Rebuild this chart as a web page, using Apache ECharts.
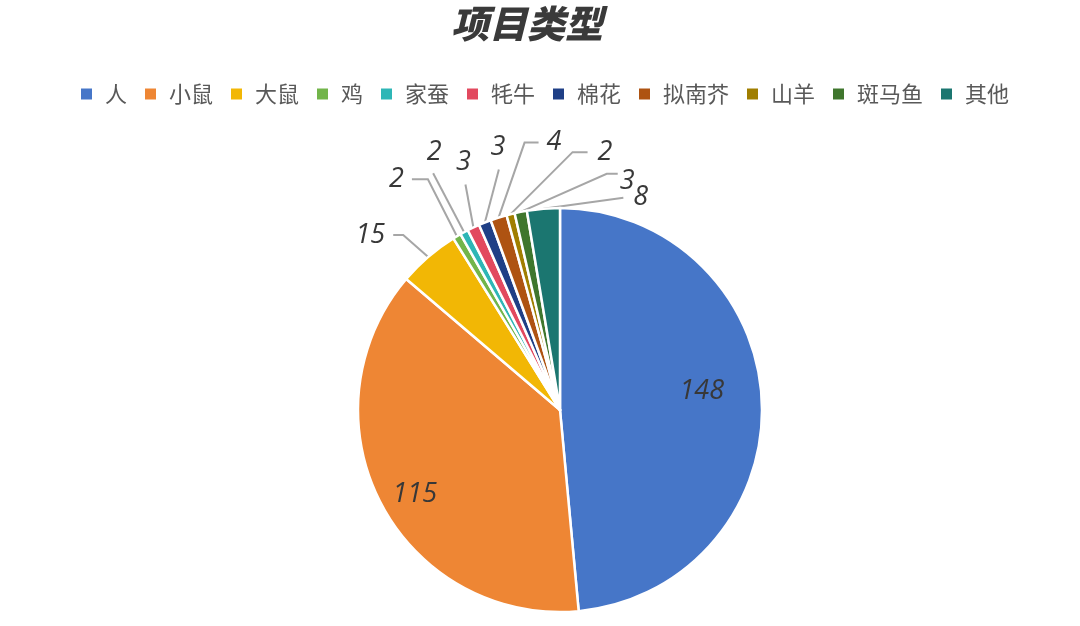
<!DOCTYPE html>
<html>
<head>
<meta charset="utf-8">
<script src="https://cdn.jsdelivr.net/npm/echarts@6/dist/echarts.min.js"></script>
<style>
html,body{margin:0;padding:0;background:#fff;}
#main{width:1080px;height:626px;}
</style>
</head>
<body>
<div id="main"></div>
<script>
// ---- data ----
const titleText = '项目类型';
const categories = ['人', '小鼠', '大鼠', '鸡', '家蚕', '牦牛', '棉花', '拟南芥', '山羊', '斑马鱼', '其他'];
const values = [148, 115, 15, 2, 2, 3, 3, 4, 2, 3, 8];

// ---- styles ----
const colors = ['#4676C8', '#EE8634', '#F2B705', '#72B54A', '#2EB6B6', '#E2495F', '#1F3F86', '#AE5312', '#A07E00', '#3F762D', '#1B7670'];
// label placement relative to the slice's outer mid-point: [elbow dx,dy] [end dx,dy] [text dx,dy] align vAlign
const labelStyles = [
  { inside: true, text: [-60, -9] },
  { inside: true, text: [34, -9] },
  { elbow: [-25, -22], end: [-35, -22], text: [-8, 0], align: 'right', v: 'middle' },
  { elbow: [-29, -57], end: [-45, -57], text: [-8, 0], align: 'right', v: 'middle' },
  { elbow: [-31, -59], end: [-31, -59], text: [1, -7], align: 'center', v: 'bottom' },
  { elbow: [-8, -43], end: [-8, -43], text: [-2, -9], align: 'center', v: 'bottom' },
  { elbow: [14, -53], end: [14, -53], text: [-1, -9], align: 'center', v: 'bottom' },
  { elbow: [26, -75], end: [40, -75], text: [8, 0], align: 'left', v: 'middle' },
  { elbow: [62, -62], end: [77, -62], text: [10, 0], align: 'left', v: 'middle' },
  { elbow: [86, -38], end: [97, -38], text: [2, 7], align: 'left', v: 'middle' },
  { elbow: [80, -11], end: [80, -11], text: [10, 0], align: 'left', v: 'middle' }
];

const chart = echarts.init(document.getElementById('main'));

const seriesData = categories.map(function (name, i) {
  const st = labelStyles[i];
  return {
    name: name,
    value: values[i],
    itemStyle: { color: colors[i] },
    label: { position: st.inside ? 'inside' : 'outside' },
    labelLine: { show: !st.inside }
  };
});

function layoutLabel(p) {
  const data = chart.getModel().getSeriesByIndex(0).getData();
  const lay = data.getItemLayout(p.dataIndex);
  const st = labelStyles[p.dataIndex];
  const mid = (lay.startAngle + lay.endAngle) / 2;
  const ex = lay.cx + lay.r * Math.cos(mid);
  const ey = lay.cy + lay.r * Math.sin(mid);
  if (st.inside) {
    return { x: ex + st.text[0], y: ey + st.text[1], align: 'center', verticalAlign: 'middle' };
  }
  const el = [ex + st.elbow[0], ey + st.elbow[1]];
  const en = [ex + st.end[0], ey + st.end[1]];
  return {
    x: en[0] + st.text[0],
    y: en[1] + st.text[1],
    align: st.align,
    verticalAlign: st.v,
    labelLinePoints: [[ex, ey], el, en]
  };
}

chart.setOption({
  backgroundColor: '#ffffff',
  animation: false,
  title: {
    text: titleText,
    left: 446,
    top: 0,
    textStyle: {
      fontFamily: 'Noto Sans CJK SC',
      fontSize: 38,
      fontWeight: 900,
      fontStyle: 'italic',
      color: '#3a3a3a'
    }
  },
  legend: {
    data: categories,
    left: 74,
    top: 77,
    icon: 'rect',
    itemWidth: 13,
    itemHeight: 13,
    itemGap: 16,
    selectedMode: false,
    textStyle: {
      fontFamily: 'Noto Sans CJK SC',
      fontSize: 22,
      color: '#595959',
      lineHeight: 24,
      padding: [0, 0, 0, 7]
    }
  },
  series: [{
    type: 'pie',
    center: [560, 410],
    radius: 202,
    startAngle: 90,
    clockwise: true,
    avoidLabelOverlap: false,
    silent: true,
    itemStyle: { borderColor: '#ffffff', borderWidth: 2.5 },
    label: {
      show: true,
      formatter: '{c}',
      fontFamily: 'Open Sans',
      fontStyle: 'italic',
      fontSize: 27,
      color: '#383838'
    },
    labelLine: {
      show: true,
      length: 15,
      length2: 10,
      lineStyle: { color: '#A6A6A6', width: 2 }
    },
    labelLayout: layoutLabel,
    data: seriesData
  }]
});
</script>
</body>
</html>
